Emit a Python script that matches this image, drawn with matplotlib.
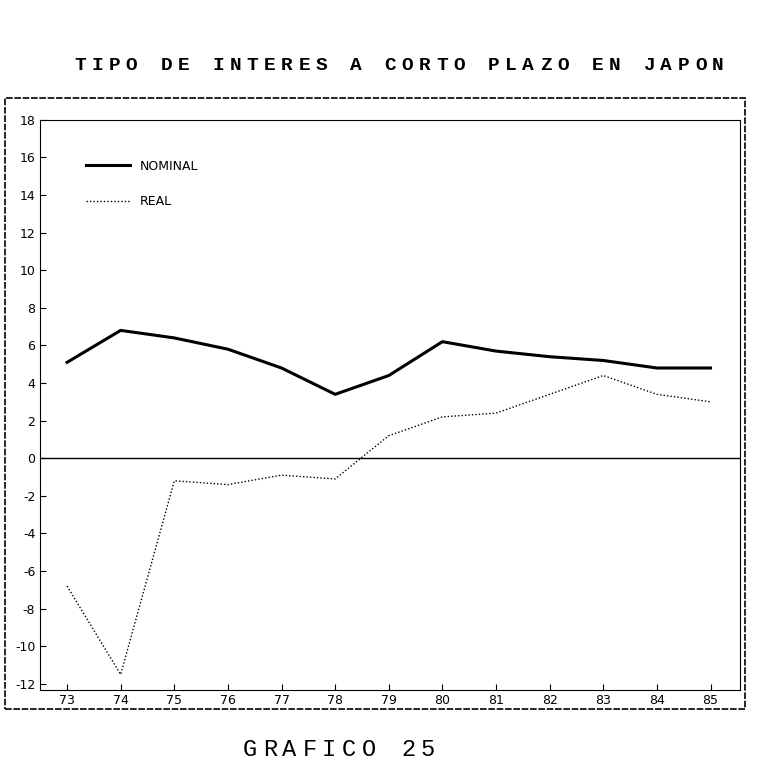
import matplotlib
matplotlib.use("Agg")
import matplotlib.pyplot as plt
from matplotlib.patches import Rectangle
plt.rcParams["axes.unicode_minus"] = False

years = ["73","74","75","76","77","78","79","80","81","82","83","84","85"]
nominal = [5.1, 6.8, 6.4, 5.8, 4.8, 3.4, 4.4, 6.2, 5.7, 5.4, 5.2, 4.8, 4.8]
real = [-6.8, -11.5, -1.2, -1.4, -0.9, -1.1, 1.2, 2.2, 2.4, 3.4, 4.4, 3.4, 3.0]
yticks = [-12,-10,-8,-6,-4,-2,0,2,4,6,8,10,12,14,16,18]
title = "TIPO DE INTERES A CORTO PLAZO EN JAPON"
caption = "GRAFICO 25"

W, H = 759, 773
fig = plt.figure(figsize=(W/100, H/100), dpi=100)
fig.patches.append(Rectangle((0.006, 0.083), 0.975, 0.79, transform=fig.transFigure,
                             fill=False, lw=1.2, ls=(0,(4,1)), color="black"))
ax = fig.add_axes([0.053, 0.108, 0.922, 0.737])
x = list(range(len(years)))
ax.plot(x, nominal, color="black", lw=2.2, label="NOMINAL")
ax.plot(x, real, color="black", lw=1.0, ls=(0,(1,1.5)), label="REAL")
ax.axhline(0, color="black", lw=1)
ax.set_xlim(-0.5, 12.55)
ax.set_ylim(-12.3, 18)
ax.set_xticks(x)
ax.set_xticklabels(years)
ax.set_yticks(yticks)
ax.tick_params(labelsize=9, direction="in", length=4)
for s in ax.spines.values():
    s.set_linestyle((0,(4,1)))
ax.legend(loc="upper left", bbox_to_anchor=(0.05, 0.95), frameon=False,
          handlelength=3.5, labelspacing=1.8, fontsize=9)

def spaced(s, x0, x1, y, **kw):
    n = len(s)
    step = (x1 - x0) / (n - 1)
    for i, c in enumerate(s):
        fig.text((x0 + i*step)/W, 1 - y/H, c, ha="center", va="center",
                 family="Liberation Mono", **kw)

spaced(title, 80, 718, 65, fontsize=14, fontweight="bold")
spaced(caption, 250, 428, 750, fontsize=17)
fig.savefig("out.png", dpi=100)
